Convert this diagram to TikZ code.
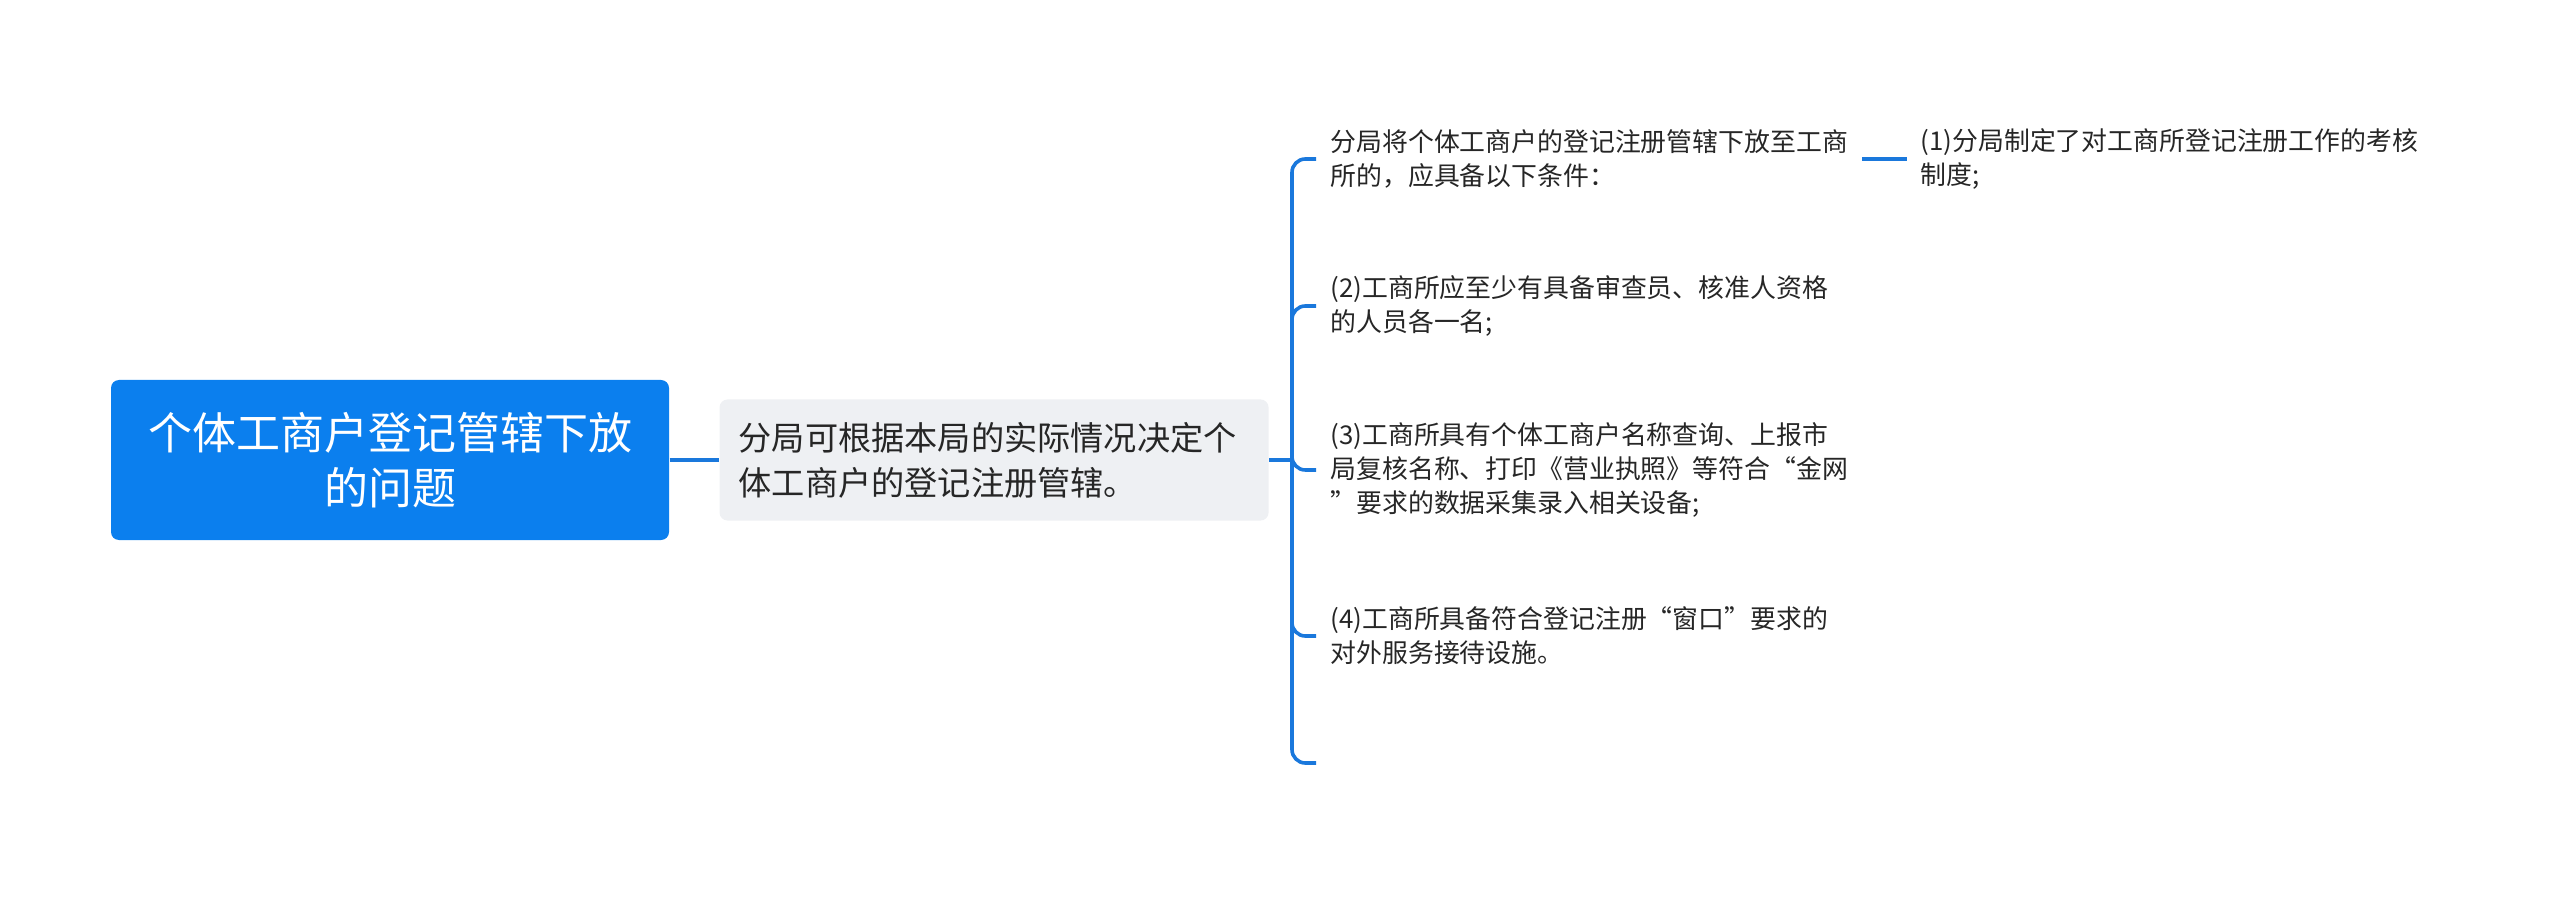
\documentclass[tikz,border=0pt]{standalone}
\usepackage{fontspec}
\setmainfont{Noto Sans CJK SC}
\definecolor{rootblue}{HTML}{0B7FEE}
\definecolor{lineblue}{HTML}{1A78DC}
\definecolor{midfill}{HTML}{EEF0F3}
\definecolor{txt}{HTML}{262626}
\begin{document}
\begin{tikzpicture}[x=0.375pt,y=-0.375pt,
  conn/.style={draw=lineblue,line width=1.35pt},
  rootbox/.style={fill=rootblue,rounded corners=3pt,text=white,align=center,
    minimum width=209.25pt,minimum height=60pt,inner sep=0pt,
    font=\fontsize{16.5pt}{20.6pt}\selectfont},
  midbox/.style={fill=midfill,rounded corners=3pt,text=txt,align=left,
    minimum width=205.9pt,minimum height=45.4pt,text width=191.6pt,
    inner xsep=7.1pt,inner ysep=0pt,font=\fontsize{12.45pt}{16.9pt}\selectfont},
  leaf/.style={anchor=west,text=txt,align=left,inner xsep=5.25pt,inner ysep=0pt,
    font=\fontsize{9.7pt}{12.75pt}\selectfont},
  gleaf/.style={anchor=west,text=txt,align=left,inner xsep=4.9pt,inner ysep=0pt,
    font=\fontsize{9.7pt}{12.75pt}\selectfont}
]
\useasboundingbox (0,0) rectangle (2560,904);

\node[rootbox] (root) at (390,460) {个体工商户登记管辖下放\\的问题};
\node[midbox,anchor=west] (mid) at (719,460) {分局可根据本局的实际情况决定个\\体工商户的登记注册管辖。};

\node[leaf] (c1) at (1316,159) {分局将个体工商户的登记注册管辖下放至工商\\所的，应具备以下条件：};
\node[leaf] (c2) at (1316,306) {(2)工商所应至少有具备审查员、核准人资格\\的人员各一名;};
\node[leaf] (c3) at (1316,470) {(3)工商所具有个体工商户名称查询、上报市\\局复核名称、打印《营业执照》等符合“金网\\”要求的数据采集录入相关设备;};
\node[leaf] (c4) at (1316,636) {(4)工商所具备符合登记注册“窗口”要求的\\对外服务接待设施。};
\coordinate (c5) at (1316,763);

\node[gleaf] (g1) at (1907,159) {(1)分局制定了对工商所登记注册工作的考核\\制度;};

\coordinate (bx) at (1292,460);

\draw[conn] (root.east) -- (mid.west);
\draw[conn] (mid.east) -- (mid.east -| bx);
\foreach \c in {c1,c2,c3,c4,c5}{
  \draw[conn,rounded corners=5pt] (mid.east -| bx) |- (\c.west);
}
\draw[conn] (c1.east) -- (c1.east -| g1.west);
\end{tikzpicture}
\end{document}
